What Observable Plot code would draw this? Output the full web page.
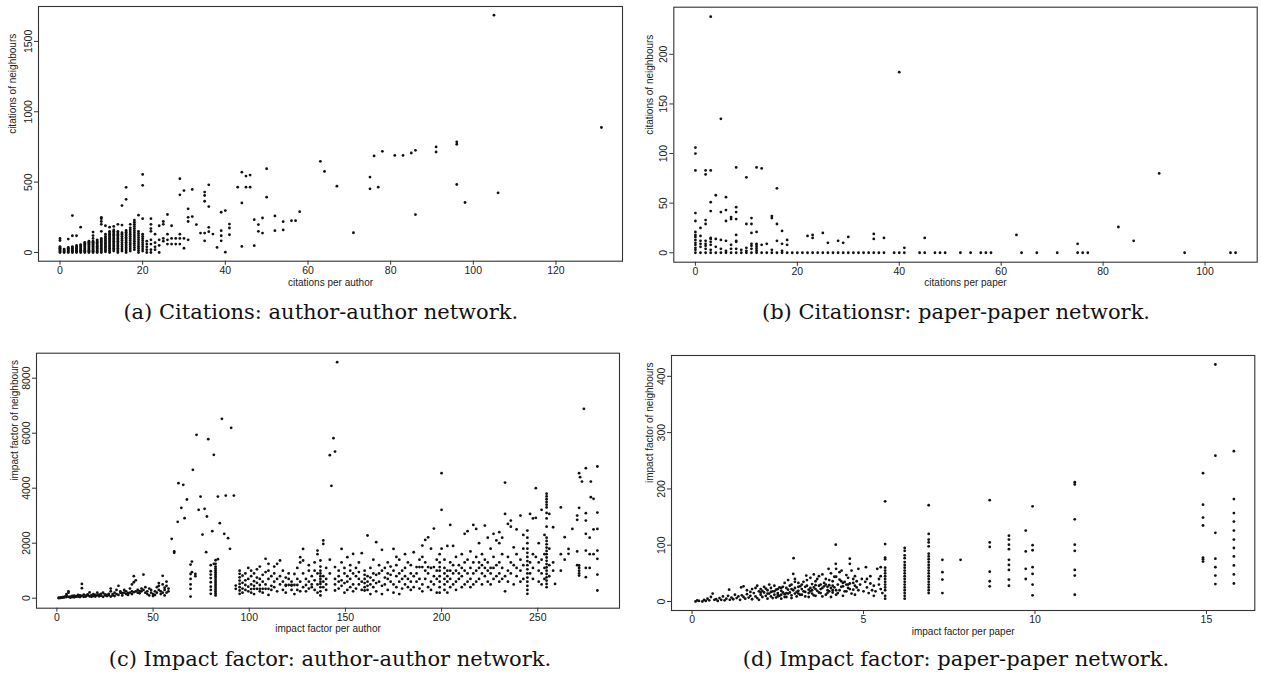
<!DOCTYPE html>
<html>
<head>
<meta charset="utf-8">
<script src="https://cdn.jsdelivr.net/npm/d3@7"></script>
<script src="https://cdn.jsdelivr.net/npm/@observablehq/plot@0.6"></script>
<style>
  html, body { margin: 0; padding: 0; background: #fff; }
  #page { position: relative; width: 1261px; height: 675px; overflow: hidden; background: #fff; }
  .panel { position: absolute; }
  .cap { position: absolute; white-space: nowrap; transform: translateX(-50%);
         font-family: "DejaVu Serif", "Liberation Serif", serif; font-size: 21px; line-height: 21px; color: #111; }
</style>
</head>
<body>
<div id="page"></div>
<script>
// ---------- tick labels ----------
const citAuthorXTicks = [0, 20, 40, 60, 80, 100, 120];
const citAuthorYTicks = [0, 500, 1000, 1500];
const citPaperXTicks = [0, 20, 40, 60, 80, 100];
const citPaperYTicks = [0, 50, 100, 150, 200];
const ifAuthorXTicks = [0, 50, 100, 150, 200, 250];
const ifAuthorYTicks = [0, 2000, 4000, 6000, 8000];
const ifPaperXTicks = [0, 5, 10, 15];
const ifPaperYTicks = [0, 100, 200, 300, 400];

// ---------- captions / axis titles ----------
const captions = [
  "(a) Citations: author-author network.",
  "(b) Citationsr: paper-paper network.",
  "(c) Impact factor: author-author network.",
  "(d) Impact factor: paper-paper network."
];
const xTitles = ["citations per author", "citations per paper", "impact factor per author", "impact factor per paper"];
const yTitles = ["citations of neighbours", "citations of neighbours", "impact factor of neighbours", "impact factor of neighbours"];

// ---------- (a) citations per author vs citations of neighbours: [x, [y...]] ----------
const citAuthorCols = [
  [0, [0,6,12,18,24,30,36,42,85,100]],
  [1, [0,6,12,18,24]],
  [2, [0,6,12,18,24,30,36,95]],
  [3, [0,7,14,21,28,35,42,119,262]],
  [4, [0,7,14,21,28,35,42,50,119]],
  [5, [0,8,16,24,32,40,48,56,180]],
  [6, [0,8,16,24,32,40,48,56,64,72]],
  [7, [0,8,16,24,32,40,48,56,64,72,80]],
  [8, [0,8,16,24,32,40,48,56,64,72,80,100,120,145]],
  [9, [0,9,18,27,36,45,54,63,72,81,90]],
  [10, [0,10,20,30,40,50,60,70,80,90,100,150,200,220,240,250]],
  [11, [5,15,25,35,45,55,65,75,85,95,105,115,130,190]],
  [12, [0,10,20,30,40,50,60,70,80,90,100,110,120,130,140,150,180]],
  [13, [10,20,30,40,50,60,70,80,90,100,110,120,130,140,150,160,185]],
  [14, [0,10,20,30,40,50,60,70,80,90,100,110,120,130,140,150,200]],
  [15, [10,25,40,55,70,85,100,115,130,140,195,333]],
  [16, [0,12,24,36,48,60,72,84,96,108,120,132,144,156,378,463]],
  [17, [10,25,40,55,70,85,100,115,130,145,160,175,200]],
  [18, [20,35,50,65,80,95,110,125,140,155,170,185,200,215,230]],
  [19, [0,15,30,45,60,75,90,105,120,135,150,265]],
  [20, [10,25,40,55,70,85,100,115,130,240,477,555]],
  [21, [0,20,40,60,80]],
  [22, [0,20,60,90,150,170,200,240]],
  [23, [20,40,70,130]],
  [24, [0,50,90,190]],
  [25, [80,100,200,220]],
  [26, [60,90,130,270]],
  [27, [60,100,190]],
  [28, [60,100]],
  [29, [60,100,130,410,524]],
  [30, [30,100,440]],
  [31, [90,220,250,310]],
  [32, [255,448]],
  [33, [198]],
  [34, [138]],
  [35, [83,138,364,405,429]],
  [36, [148,179,326,481]],
  [37, [131]],
  [38, [36]],
  [39, [83,119,155,286]],
  [40, [2,298]],
  [41, [126,174,202]],
  [43, [464]],
  [44, [43,352,571]],
  [45, [464,543]],
  [46, [464,550]],
  [47, [48,233]],
  [48, [150,198]],
  [49, [138,245]],
  [50, [393,595]],
  [52, [155,260]],
  [54, [160,219]],
  [56, [226]],
  [57, [226]],
  [58, [290]],
  [63, [648]],
  [64, [576]],
  [67, [471]],
  [71, [140]],
  [75, [452,536]],
  [76, [686]],
  [77, [464]],
  [78, [719]],
  [81, [690]],
  [83, [690]],
  [85, [707]],
  [86, [269,726]],
  [91, [714,750]],
  [96, [483,769,786]],
  [98, [355]],
  [105, [1686]],
  [106, [424]],
  [131, [888]]
];

// ---------- (b) citations per paper vs citations of neighbours ----------
const citPaperCols = [
  [0, [0,3,5,8,10,13,16,18,21,32,40,83,100,106]],
  [1, [0,6,9,12,17,25]],
  [2, [0,4,7,9,12,29,33,79,83]],
  [3, [0,3,8,11,14,15,42,51,83,238]],
  [4, [0,6,14,58]],
  [5, [0,4,13,41,135]],
  [6, [0,2,12,32,43,56]],
  [7, [0,4,8,34,36]],
  [8, [0,4,11,12,18,34,41,46,86]],
  [9, [0,3]],
  [10, [0,2,5,29,76]],
  [11, [0,4,7,9,20,29,35]],
  [12, [0,2,4,6,8,9,21,86]],
  [13, [0,8,85]],
  [14, [0,9]],
  [15, [0,3,35,37]],
  [16, [0,12,29,65]],
  [17, [0,2,9,22]],
  [18, [0,8,13]],
  [19, [0]], [20, [0]], [21, [0]], [22, [0,17]], [23, [0,15,18]], [24, [0]],
  [25, [0,20]], [26, [0,10]], [27, [0]], [28, [0,12]], [29, [0,10]], [30, [0,16]],
  [31, [0]], [32, [0]], [33, [0]], [34, [0]], [35, [0,14,19]], [36, [0]], [37, [0,15]],
  [39, [0]], [40, [0,182]], [41, [0,5]], [44, [0]], [45, [0,15]], [47, [0]], [48, [0]],
  [49, [0]], [52, [0]], [54, [0]], [56, [0]], [57, [0]], [58, [0]], [63, [18]], [64, [0]],
  [67, [0]], [71, [0]], [75, [0,9]], [76, [0]], [77, [0]], [83, [26]], [86, [12]],
  [91, [80]], [96, [0]], [105, [0]], [106, [0]]
];

// ---------- (c) impact factor per author vs impact factor of neighbours ----------
const ifAuthorCols = [
  [1, [0,20]], [2, [10,30]], [3, [20,40]], [4, [30,60]], [5, [40,100,150]], [6, [50,200,250]],
  [7, [20,60]], [8, [40,80]], [9, [30,90]], [10, [50,70]], [11, [60,120]], [12, [40,100]],
  [13, [80,364,520]], [14, [50,130]], [15, [60,90]], [16, [100,140]], [17, [70,210]],
  [18, [50,110]], [19, [80,150]], [20, [60,120]], [21, [100,200]], [22, [70,130]],
  [23, [90,160]], [24, [50,200]], [25, [100,140]], [26, [80,120]], [27, [110,160]],
  [28, [60,250,350]], [29, [100,150]], [30, [80,200]], [31, [150,300]], [32, [120,450]],
  [33, [200,250]], [34, [100,180]], [35, [200,300]], [36, [150,250]], [37, [120,180]],
  [38, [200,350]], [39, [150,250,500]], [40, [220,580,800]], [41, [250,650]], [42, [200,300]],
  [43, [180,260]], [44, [250,350]], [45, [300,860]], [46, [200,400]], [47, [150,250]],
  [48, [100,350]], [49, [200,300]], [50, [80,150]], [51, [120,250]], [52, [200,400]],
  [53, [300,450,550]], [54, [150,250]], [55, [200,500,812]], [56, [100,300,380]],
  [57, [200,450,600]], [58, [250,350]],
  [59.7, [2158]], [61, [1700,1650]], [62.8, [2776]], [63.2, [4182]], [64.7, [3285]],
  [65.7, [4121]], [66.4, [2909]], [67.6, [3588]],
  [69.5, [60,340,500,700,880,1224]], [70.2, [945,1333]], [70.7, [4667]], [72, [800,880]],
  [72.6, [5939]], [73.7, [3212]], [74.7, [3697]], [75.7, [2315]], [76.8, [3248]],
  [77.6, [1673]], [78, [2970]], [78.7, [5782]],
  [80, [160,300,420,580,730,860,980,1200]], [80.8, [2436]], [81.6, [5212,1250]],
  [82.5, [100,170,240,310,380,450,520,590,660,730,800,870,940,1010,1080,1150,1250,1380]],
  [83.7, [3697,1420]], [84.7, [2727]], [85.8, [6521]], [87, [2339]], [87.8, [3733]],
  [89, [2182]], [90, [1794]], [90.6, [6194]], [92, [3733]],
  [93, [340,460]], [95, [160,280,400,520,640,760,885,1000]], [96.5, [200,350,560,820]],
  [98, [300,480,650,900]], [99.5, [250,420,700,1100]], [101, [200,330,500,800,1000]],
  [102.5, [150,340,450,620,900]], [104, [340,560,750,1050]], [105.5, [250,340,480,700,1150]],
  [107, [200,340,600,850]], [108.5, [340,500,950,1430]], [110, [120,340,700,1000,1250]],
  [111.5, [300,450,800]], [113, [400,600,900,1150]], [114.5, [250,700,1250]],
  [116, [500,800,1370]], [117.5, [300,600,1000]], [119, [200,450,480,750]],
  [120.5, [480,700,900]], [122, [300,460,480,600]], [123.5, [150,480,880]],
  [125, [300,480,700,1100]], [126.5, [250,600,1300,1490]], [128, [400,900,1370,1790]],
  [129.5, [250,480,700]], [131, [350,600,1000,1200]], [132.5, [400,500,800]],
  [134, [300,650,1000,1300]], [135.5, [200,500,900,1600,1730]],
  [137, [100,250,400,520,600,700,800,900,1000,1150,1370]], [138.5, [400,600,800,1975,2100]],
  [140, [300,500,700,1100]], [141.9, [900,1400,5200]], [142.7, [4085]], [143.8, [5818]],
  [144.6, [280,500,700,1130,5333]], [145.7, [8582]], [146.5, [350,600,800,1000]],
  [148, [450,650,1300,1790]], [149.5, [200,550,900,1100]], [151, [300,600,800,1490]],
  [152.5, [400,700,1000,1200]], [154, [250,500,900,1610]], [155.5, [350,800,1100]],
  [157, [500,700,950,1300]], [158.5, [300,600,1636]], [160, [280,400,550,700,850,1000]],
  [161.5, [300,450,600,800,2280]], [163, [150,500,750,1100]], [164.5, [400,650,900,1400]],
  [166, [250,550,850,2036]], [167.5, [600,900,1200]], [169, [150,450,1000,1757]],
  [170.5, [500,750,1100]], [172, [300,700,900,1300]], [173.5, [600,850,1150]],
  [175, [200,500,1000,1790]], [176.5, [400,800,1200,1500]], [178, [150,600,900,1400]],
  [179.5, [350,700,1000]], [181, [500,800,1100,1600]], [182.5, [400,700,1300]],
  [184, [300,600,900,1200]], [185.5, [400,800,1670]], [187, [600,900,1130]],
  [188.5, [350,700,1130,1400]], [190, [250,500,1130,1500,1915]], [191.5, [700,1000,1300,2120]],
  [193, [400,900,1130,2212]], [194.5, [300,600,1100,1800]], [196, [500,800,1130,2533]],
  [197.5, [200,700,1000,1400]], [199, [200,400,600,800,1000,1130,1300,1600]],
  [200, [1800,3212,4545]], [201.5, [300,500,700,900,1100,1400]], [203, [200,600,800,1000,1900]],
  [204.5, [400,700,1000,1300,2666]], [206, [500,900,1200,1900]], [207.5, [300,600,1000,1500]],
  [209, [700,900,1200]], [210.5, [400,800,1100,1600]], [212, [500,1000,1300,2340]],
  [213.5, [600,900,1400,2436]], [215, [400,700,1100,1700]], [216.5, [500,900,1300,2666]],
  [218, [600,1000,1500,2520]], [219.5, [700,1100,1300,2000]], [221, [500,900,1200,1600]],
  [222.5, [800,1100,1400,2640]], [224, [600,1000,1300,2200]], [225.5, [500,900,1100,1800]],
  [227, [700,1100,1500,2340]], [228.5, [800,1200,2100]], [230, [600,900,1300,2000,2400]],
  [231.5, [700,1100,1600,2200]], [233, [250,800,3066,4206]], [234.5, [600,1000,1500,2700]],
  [236, [900,1300,2600,2824]], [237.5, [500,1200,1850]], [239, [800,1100,1600,2500]],
  [241, [600,1000,1400,3006]], [242.5, [700,1200,1800,2300]],
  [244.6, [160,300,450,600,750,900,1050,1200,1350,1500,1650,1800,2000,2200,2460]],
  [246, [900,1300,3066]], [247.5, [700,1100,1600,2900]], [249, [1500,2921,4000]],
  [250.5, [600,1000,1300,2000]], [252, [500,900,1400,3212]], [253.5, [700,1100,1600,2300]],
  [254.6, [400,520,640,760,880,1000,1120,1240,1360,1480,1600,1720,1840,1960,2080,2200,2600,2900,3100,3300,3400,3500,3600,3700,3800]],
  [256, [800,1200,1800,3066]], [258, [1000,1300,2580]], [259, [520]], [262, [1000,1600,3300]],
  [264, [1400,2218]], [266, [1612,1790]], [268, [2520]], [270.5, [1200,1700,2848,3006]],
  [271.5, [824,900,1000,1100,1188,3285,4545]], [272, [4400]], [273, [4242]], [274, [6885]],
  [275, [763,1100,1733,2340,2824,3090,4727]], [277, [1100,1600,2200]], [277.6, [3672,4242]],
  [279, [1600,2500,3612]], [281, [280,860,1430,1733,2520,3115,4788]]
];

// ---------- (d) impact factor per paper vs impact factor of neighbours ----------
const ifPaperPairs = [
  [0.1,0],[0.15,2],[0.2,1],[0.3,0],[0.35,3],[0.4,1],[0.45,5],[0.5,2],[0.55,8],[0.6,14],
  [0.65,3],[0.7,4],[0.75,1],[0.8,6],[0.85,3],[0.9,9],[0.95,2],[1.0,5],[1.05,10],[1.08,21],
  [1.1,3],[1.15,7],[1.2,4],[1.25,12],[1.3,6],[1.35,9],[1.4,3],[1.43,25],[1.45,11],[1.5,27],
  [1.5,8],[1.55,5],[1.6,13],[1.65,7],[1.7,10],[1.75,4],[1.8,15],[1.85,9],[1.9,28],[1.9,6],
  [1.95,18],[2.0,12],[2.0,22],[2.05,8],[2.1,16],[2.1,26],[2.15,10],[2.2,20],[2.2,5],[2.25,30],
  [2.25,14],[2.3,24],[2.3,9],[2.35,18],[2.4,12],[2.4,28],[2.45,7],[2.5,15],[2.5,22],[2.55,10],
  [2.6,19],[2.6,5],[2.65,26],[2.7,13],[2.7,33],[2.75,8],[2.8,21],[2.8,38],[2.85,16],[2.9,11],
  [2.9,30],[2.95,49],[2.96,77],[3.0,40],[3.0,24],[3.0,14],[3.05,9],[3.1,19],[3.1,33],[3.15,27],
  [3.2,12],[3.2,22],[3.25,35],[3.3,17],[3.33,46],[3.35,28],[3.4,8],[3.4,21],[3.45,42],[3.5,14],
  [3.5,31],[3.55,25],[3.6,10],[3.6,36],[3.65,19],[3.7,28],[3.7,45],[3.75,15],[3.8,24],[3.85,33],
  [3.9,12],[3.9,40],[3.95,20],[3.98,58],[4.0,29],[4.05,50],[4.05,8],[4.1,16],[4.1,36],[4.15,25],
  [4.19,101],[4.19,67],[4.2,44],[4.2,12],[4.25,30],[4.3,20],[4.3,39],[4.36,55],[4.4,10],[4.4,27],
  [4.45,35],[4.5,18],[4.5,47],[4.55,24],[4.6,76],[4.6,67],[4.6,32],[4.65,14],[4.7,40],[4.7,21],
  [4.75,28],[4.8,36],[5.07,61],[5.1,40],[5.1,25],[5.15,15],[5.2,32],[5.25,20],[5.3,10],[5.4,58],
  [5.45,30],[5.5,61],[5.5,45],[5.5,22],[5.55,15],
  [1.6,20],[1.7,17],[1.75,22],[1.85,24],[1.95,3],[2.0,16],[2.05,19],[2.15,23],[2.2,14],[2.3,17],
  [2.35,6],[2.45,21],[2.5,9],[2.55,25],[2.6,12],[2.65,16],[2.7,8],[2.75,24],[2.8,14],[2.85,28],
  [2.9,6],[2.95,20],[3.0,35],[3.05,17],[3.1,26],[3.15,12],[3.2,30],[3.25,18],[3.3,9],[3.35,38],
  [3.4,15],[3.45,24],[3.5,20],[3.55,11],[3.6,29],[3.65,40],[3.7,16],[3.75,22],[3.8,9],[3.85,27],
  [3.9,30],[3.95,15],[4.0,38],[4.0,18],[4.05,24],[4.1,28],[4.15,44],[4.2,20],[4.25,15],[4.3,52],
  [4.35,26],[4.4,33],[4.45,18],[4.5,30],[4.55,42],[4.6,22],[4.65,55],[4.7,33],[4.75,12],[4.8,25],
  [4.85,20],[4.9,30],[5.0,18],[5.05,35],[5.2,45],[5.3,28],[5.35,18],[5.45,40],[4.85,58],[4.2,58],
  [3.8,48],[3.55,48],[2.4,18],[2.5,12],[2.6,24],[2.75,15],[2.9,22],[3.1,14],[3.3,26],[3.45,18],
  [3.6,22],[3.75,30],[3.95,26],[4.1,20],[4.35,36],[4.55,30],[4.75,45],[4.95,40]
];
const ifPaperCols = [
  [5.63, [5,10,20,25,30,35,40,45,50,55,60,75,78,102,178]],
  [6.2, [5,10,15,20,25,30,35,40,45,50,55,60,65,70,77,82,90,95]],
  [6.9, [15,20,25,30,35,40,45,50,55,60,65,70,75,80,85,98,105,110,120,171]],
  [7.3, [15,39,52,74]],
  [7.83, [74]],
  [8.68, [27,36,53,97,105,180]],
  [9.24, [28,39,56,65,74,93,101,110,117]],
  [9.73, [40,58,89,126]],
  [9.93, [11,30,49,61,91,100,169]],
  [11.16, [12,46,56,90,101,146,208,212]],
  [14.9, [71,75,78,135,149,172,228]],
  [15.26, [31,46,61,76,122,259,421]],
  [15.8, [32,48,64,80,95,110,126,142,157,182,267]]
];

// ---------- build tables ----------
const fromCols = cols => cols.flatMap(([x, ys]) => ys.map(y => ({x, y})));
const fromPairs = pairs => pairs.map(([x, y]) => ({x, y}));

const panels = [
  {data: fromCols(citAuthorCols), xTicks: citAuthorXTicks, yTicks: citAuthorYTicks,
   xDomain: [-5.2, 136.1], yDomain: [-62, 1748],
   left: 0, top: 0, width: 630, height: 290, m: [6, 8, 29.3, 38], xDy: 22, yDx: -26,
   cap: {cx: 320.8, top: 302}},
  {data: fromCols(citPaperCols), xTicks: citPaperXTicks, yTicks: citPaperYTicks,
   xDomain: [-4.24, 110.24], yDomain: [-9.5, 247.5],
   left: 630, top: 0, width: 631, height: 290, m: [6.7, 4.3, 28.3, 43.3], xDy: 21, yDx: -24,
   cap: {cx: 956, top: 302}},
  {data: fromCols(ifAuthorCols), xTicks: ifAuthorXTicks, yTicks: ifAuthorYTicks,
   xDomain: [-10.6, 292.5], yDomain: [-364, 8909],
   left: 0, top: 330, width: 630, height: 310, m: [22.7, 11, 32.3, 36], xDy: 20.7, yDx: -22,
   cap: {cx: 330, top: 649}},
  {data: fromPairs(ifPaperPairs).concat(fromCols(ifPaperCols)), xTicks: ifPaperXTicks, yTicks: ifPaperYTicks,
   xDomain: [-0.6, 16.41], yDomain: [-16, 437],
   left: 630, top: 330, width: 631, height: 310, m: [25, 6.7, 30, 41], xDy: 21, yDx: -22,
   cap: {cx: 956, top: 649}}
];

const fmt = d3.format("d");
const page = document.getElementById("page");
panels.forEach((p, i) => {
  const chart = Plot.plot({
    width: p.width,
    height: p.height,
    marginTop: p.m[0], marginRight: p.m[1], marginBottom: p.m[2], marginLeft: p.m[3],
    x: {domain: p.xDomain},
    y: {domain: p.yDomain},
    style: {fontFamily: "'Liberation Sans', Arial, sans-serif", fontSize: "10.5px", color: "#222", background: "transparent", overflow: "visible"},
    marks: [
      Plot.frame({stroke: "#333", strokeWidth: 1.1}),
      Plot.axisX({ticks: p.xTicks, tickFormat: fmt, tickSize: 4, tickPadding: 1, label: null, stroke: "#333"}),
      Plot.axisY({ticks: p.yTicks, tickFormat: fmt, tickSize: 4, tickPadding: 3, tickRotate: -90, label: null, stroke: "#333"}),
      Plot.dot(p.data, {x: "x", y: "y", r: 1.4, fill: "#111", stroke: null}),
      Plot.text([xTitles[i]], {text: d => d, frameAnchor: "bottom", dy: p.xDy, lineAnchor: "middle", fontSize: 10, fill: "#222"}),
      Plot.text([yTitles[i]], {text: d => d, frameAnchor: "left", dx: p.yDx, rotate: -90, lineAnchor: "middle", fontSize: 10, fill: "#222"})
    ]
  });
  const box = document.createElement("div");
  box.className = "panel";
  box.style.left = p.left + "px";
  box.style.top = p.top + "px";
  box.appendChild(chart);
  page.appendChild(box);

  const cap = document.createElement("div");
  cap.className = "cap";
  cap.style.left = p.cap.cx + "px";
  cap.style.top = p.cap.top + "px";
  cap.textContent = captions[i];
  page.appendChild(cap);
});
</script>
</body>
</html>
